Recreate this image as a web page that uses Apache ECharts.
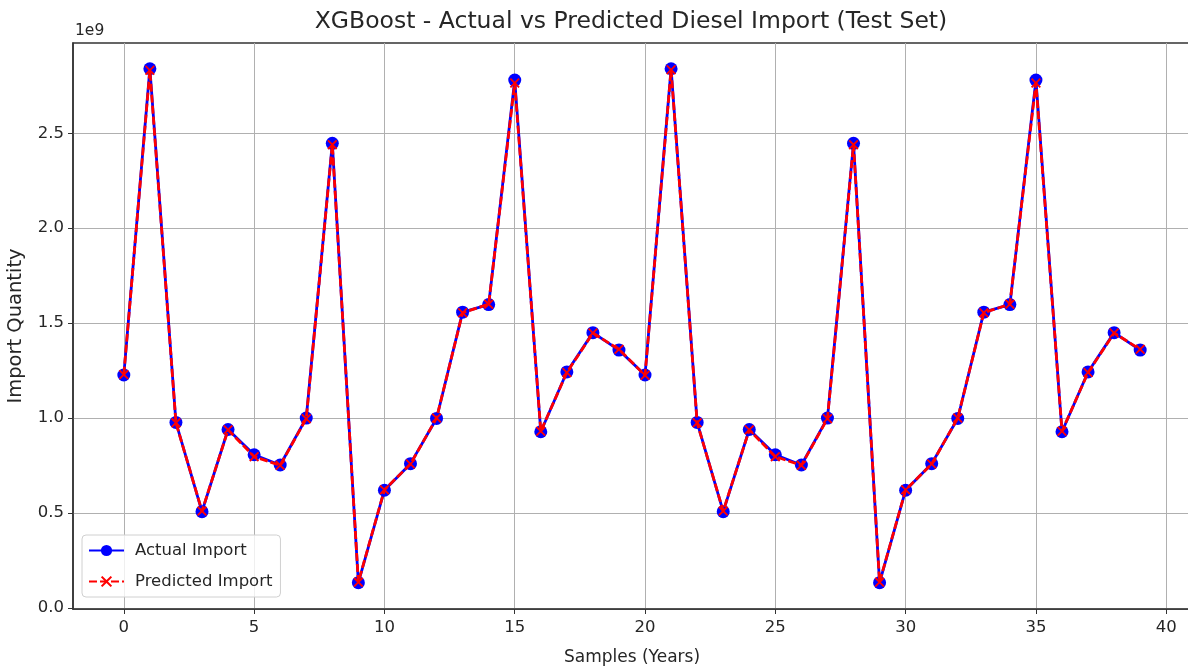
<!DOCTYPE html>
<html><head><meta charset="utf-8">
<script src="https://cdn.jsdelivr.net/npm/echarts@6/dist/echarts.min.js"></script>
<style>html,body{margin:0;padding:0;background:#fff}#c{width:1188px;height:670px}</style>
</head><body><div id="c"></div>
<script>
const samples = [0,1,2,3,4,5,6,7,8,9,10,11,12,13,14,15,16,17,18,19,20,21,22,23,24,25,26,27,28,29,30,31,32,33,34,35,36,37,38,39];
const actual = [1.227,2.84,0.977,0.507,0.94,0.807,0.753,1.0,2.447,0.133,0.62,0.76,0.998,1.558,1.598,2.78,0.928,1.243,1.45,1.358,1.227,2.84,0.977,0.507,0.94,0.807,0.753,1.0,2.447,0.133,0.62,0.76,0.998,1.558,1.598,2.78,0.928,1.243,1.45,1.358];
const predicted = [1.229,2.832,0.975,0.51,0.938,0.797,0.751,0.997,2.44,0.136,0.622,0.758,1.0,1.555,1.6,2.765,0.931,1.24,1.448,1.362,1.225,2.835,0.975,0.51,0.938,0.797,0.751,0.997,2.44,0.136,0.622,0.758,1.0,1.555,1.6,2.765,0.931,1.24,1.448,1.362];
const xTicks = [0,5,10,15,20,25,30,35,40];
const yTicks = [0,0.5,1.0,1.5,2.0,2.5];
const SCALE = 1e9;
const titleText = 'XGBoost - Actual vs Predicted Diesel Import (Test Set)';

const FONT = 'DejaVu Sans';
const TXT = '#262626';
const xPath = 'path://M0,1.3 L1.3,0 L5,3.7 L8.7,0 L10,1.3 L6.3,5 L10,8.7 L8.7,10 L5,6.3 L1.3,10 L0,8.7 L3.7,5 Z';

const chart = echarts.init(document.getElementById('c'), null, {renderer:'canvas'});
chart.setOption({
  animation:false,
  backgroundColor:'#fff',
  textStyle:{fontFamily:FONT},
  graphic:[
    {type:'text', x:631, y:22, style:{text:titleText, fontFamily:FONT, fontSize:23.5, fill:TXT, align:'center', verticalAlign:'middle'}},
    {type:'text', x:75, y:31, style:{text:'1e9', fontFamily:FONT, fontSize:15.5, fill:TXT, align:'left', verticalAlign:'middle'}}
  ],
  grid:{left:73, top:43, width:1118, height:566, show:true, borderColor:'#333', borderWidth:1.5, backgroundColor:'#fff', containLabel:false, outerBoundsMode:'none'},
  legend:{
    orient:'vertical', left:82, top:535, padding:[7,8,7,6],
    backgroundColor:'rgba(255,255,255,0.8)', borderColor:'#d0d0d0', borderWidth:1, borderRadius:4,
    itemWidth:35, itemHeight:14, itemGap:14,
    textStyle:{fontFamily:FONT, fontSize:16.5, color:TXT, padding:[0,0,0,6]},
    data:['Actual Import','Predicted Import']
  },
  xAxis:{
    type:'value', min:-1.95, max:40.95,
    name:'Samples (Years)', nameLocation:'middle', nameGap:40,
    nameTextStyle:{fontFamily:FONT, fontSize:17, color:TXT},
    axisLine:{show:true, onZero:false, lineStyle:{color:'#333', width:1.5}},
    axisTick:{show:true, length:5, customValues:xTicks, lineStyle:{color:'#333'}},
    axisLabel:{customValues:xTicks, fontFamily:FONT, fontSize:16.5, color:TXT, margin:10},
    splitLine:{show:true, lineStyle:{color:'#b0b0b0', width:1}}
  },
  yAxis:{
    type:'value', min:-0.0055*SCALE, max:2.9755*SCALE,
    name:'Import Quantity', nameLocation:'middle', nameGap:47,
    nameTextStyle:{fontFamily:FONT, fontSize:19.5, color:TXT},
    axisLine:{show:true, onZero:false, lineStyle:{color:'#333', width:1.5}},
    axisTick:{show:true, length:5, customValues:yTicks.map(v=>v*SCALE), lineStyle:{color:'#333'}},
    axisLabel:{customValues:yTicks.map(v=>v*SCALE), fontFamily:FONT, fontSize:16.5, color:TXT, margin:9,
      formatter:v=>(v/SCALE).toFixed(1)},
    splitLine:{show:true, lineStyle:{color:'#b0b0b0', width:1}}
  },
  series:[
    {name:'Actual Import', type:'line', data:samples.map((s,i)=>[s, actual[i]*SCALE]),
     symbol:'circle', symbolSize:13, showAllSymbol:true,
     lineStyle:{color:'#0000ff', width:2.8}, itemStyle:{color:'#0000ff'}, z:2},
    {name:'Predicted Import', type:'line', data:samples.map((s,i)=>[s, predicted[i]*SCALE]),
     symbol:xPath, symbolSize:10, showAllSymbol:true,
     lineStyle:{color:'#ff0000', width:2.8, type:[8,3]}, itemStyle:{color:'#ff0000'}, z:3}
  ]
});
</script></body></html>
